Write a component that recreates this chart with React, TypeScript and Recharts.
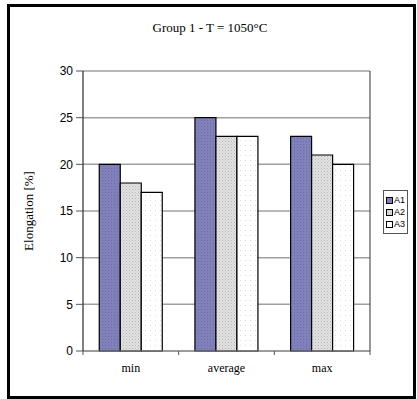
import { BarChart, Bar, XAxis, YAxis, CartesianGrid } from 'recharts';

const categories = ['min', 'average', 'max'];
const a1 = [20, 25, 23];
const a2 = [18, 23, 21];
const a3 = [17, 23, 20];
const yTicks = [0, 5, 10, 15, 20, 25, 30];

const data = categories.map((c, i) => ({ name: c, A1: a1[i], A2: a2[i], A3: a3[i] }));

const SERIES = [
  { key: 'A1', fill: 'url(#patA1)', swatch: '#7f7fb8' },
  { key: 'A2', fill: 'url(#patA2)', swatch: '#d4d4d4' },
  { key: 'A3', fill: 'url(#patA3)', swatch: '#ffffff' },
];

const W = 417;
const H = 399;
const PLOT_LEFT = 83;
const PLOT_RIGHT = 370;
const BAND = (PLOT_RIGHT - PLOT_LEFT) / categories.length;

// category label plus Excel-style tick marks on the category boundaries
const CategoryTick = (props: any) => {
  const { x, y, payload, index } = props;
  const left = x - BAND / 2;
  return (
    <g>
      <line x1={left} y1={y - 8} x2={left} y2={y - 4} stroke="#555" />
      {index === categories.length - 1 && (
        <line x1={x + BAND / 2} y1={y - 8} x2={x + BAND / 2} y2={y - 4} stroke="#555" />
      )}
      <text x={x} y={y + 13} textAnchor="middle" fontFamily="'Liberation Serif', serif" fontSize={12} fill="#000">
        {payload.value}
      </text>
    </g>
  );
};

const LegendBox = () => (
  <div
    style={{
      border: '1px solid #555',
      background: '#fff',
      padding: '3px 2px 3px 2px',
      fontFamily: "'Liberation Sans', Arial, sans-serif",
      fontSize: 9,
      lineHeight: '12px',
    }}
  >
    {SERIES.map((s) => (
      <div key={s.key} style={{ display: 'flex', alignItems: 'center' }}>
        <span
          style={{
            display: 'inline-block',
            width: 5,
            height: 5,
            border: '1px solid #000',
            background: s.swatch,
            marginRight: 1,
          }}
        />
        {s.key}
      </div>
    ))}
  </div>
);

export default function App() {
  return (
    <div style={{ position: 'absolute', left: 0, top: 0, width: W, height: H, background: '#fff' }}>
      <div
        style={{
          position: 'absolute',
          left: 7,
          top: 4,
          width: 403,
          height: 389,
          border: '3px solid #000',
        }}
      />
      <div
        style={{
          position: 'absolute',
          left: 0,
          top: 20,
          width: 420,
          textAlign: 'center',
          fontFamily: "'Liberation Serif', serif",
          fontSize: 13,
        }}
      >
        Group 1 - T = 1050°C
      </div>
      <div
        style={{
          position: 'absolute',
          left: 29,
          top: 211,
          transform: 'translate(-50%, -50%) rotate(-90deg)',
          whiteSpace: 'nowrap',
          fontFamily: "'Liberation Serif', serif",
          fontSize: 13,
        }}
      >
        Elongation [%]
      </div>
      <div style={{ position: 'absolute', left: 0, top: 0 }}>
        <BarChart
          width={W}
          height={H}
          data={data}
          margin={{ top: 71, right: W - PLOT_RIGHT - 1, bottom: 18, left: PLOT_LEFT - 40 }}
          barGap={0}
          barCategoryGap="17%"
        >
          <defs>
            <pattern id="patA1" width="3" height="3" patternUnits="userSpaceOnUse">
              <rect width="3" height="3" fill="#8080ba" />
              <rect x="0" y="0" width="1" height="1" fill="#6c6ca6" />
            </pattern>
            <pattern id="patA2" width="3" height="3" patternUnits="userSpaceOnUse">
              <rect width="3" height="3" fill="#e2e2e2" />
              <rect x="0" y="0" width="1" height="1" fill="#b4b4b4" />
              <rect x="1.5" y="1.5" width="1" height="1" fill="#c4c4c4" />
            </pattern>
            <pattern id="patA3" width="5" height="5" patternUnits="userSpaceOnUse">
              <rect width="5" height="5" fill="#ffffff" />
              <rect x="0" y="0" width="1" height="1" fill="#dcdcdc" />
            </pattern>
          </defs>
          <CartesianGrid vertical={false} stroke="#a0a0a0" strokeWidth={1.5} />
          <XAxis
            dataKey="name"
            height={30}
            axisLine={{ stroke: '#808080' }}
            tickLine={false}
            tick={<CategoryTick />}
            interval={0}
          />
          <YAxis
            width={40}
            domain={[0, 30]}
            ticks={yTicks}
            interval={0}
            axisLine={{ stroke: '#000' }}
            tickLine={{ stroke: '#555' }}
            tickSize={7}
            tickMargin={3}
            tick={{ fill: '#000', fontSize: 12, fontFamily: "'Liberation Sans', Arial, sans-serif" }}
          />
          <YAxis
            yAxisId="frame"
            orientation="right"
            width={1}
            tick={false}
            tickLine={false}
            axisLine={{ stroke: '#333' }}
          />
          {SERIES.map((s) => (
            <Bar key={s.key} dataKey={s.key} fill={s.fill} stroke="#000" strokeWidth={1.2} isAnimationActive={false} />
          ))}
        </BarChart>
      </div>
      <div style={{ position: 'absolute', left: 383, top: 190 }}>
        <LegendBox />
      </div>
    </div>
  );
}
